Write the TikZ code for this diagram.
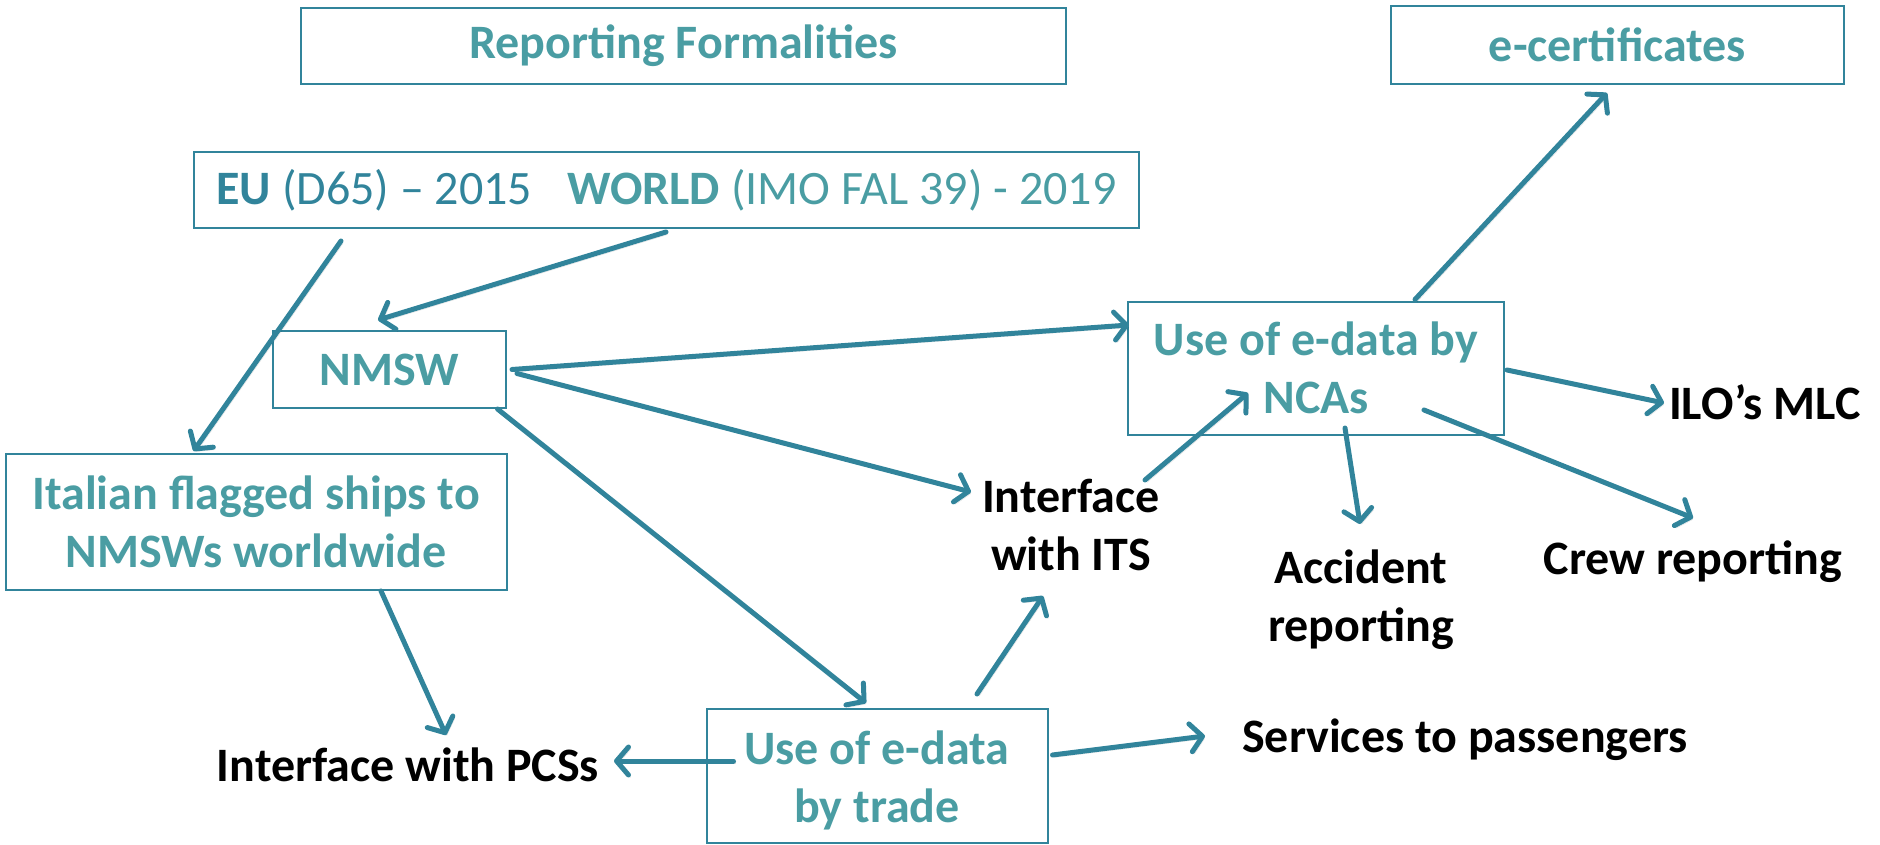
\documentclass[tikz,border=0pt]{standalone}
\usepackage{fontspec}
\setmainfont{Carlito}
\usetikzlibrary{arrows.meta,calc}
\definecolor{tealdark}{HTML}{31849B}
\definecolor{teallight}{HTML}{4A9DA3}

\tikzset{
  box/.style={draw=tealdark, line width=2pt, text=teallight, align=center,
    inner sep=0pt, font=\bfseries\fontsize{48}{58}\selectfont},
  boxtext/.style={text=teallight, align=center, inner sep=0pt,
    font=\bfseries\fontsize{48}{58}\selectfont},
  lbl/.style={text=black, align=center, inner sep=0pt,
    font=\bfseries\fontsize{48}{58}\selectfont},
  link/.style={draw=tealdark, line width=5pt, line cap=round,
    -{Straight Barb[length=12pt,width=28pt,line cap=round,line join=round]},
    preaction={draw=black, opacity=0.12, transform canvas={xshift=2pt,yshift=-2.5pt}}}
}

\begin{document}
\begin{tikzpicture}[x=1pt,y=-1pt]
      \useasboundingbox (0,0) rectangle (1880,845);
      % boxes
      \node[box, minimum width=765pt, minimum height=76pt] (rep) at (683.5,46) {Reporting Formalities};
      \node[box, minimum width=453pt, minimum height=78pt] (ecert) at (1617.5,45) {e-certificates};
      \node[box, minimum width=945pt, minimum height=76pt] (eu) at (666.5,190)
        {{\color{tealdark}EU {\mdseries (D65) – 2015}}\hspace{35pt}WORLD {\mdseries (IMO FAL 39) - 2019}};
      \node[box, minimum width=233pt, minimum height=77pt] (nmsw) at (389.5,369.5) {NMSW};
      \node[box, minimum width=376pt, minimum height=133pt] (nca) at (1316,368) {Use of e-data by\\NCAs};
      \node[box, minimum width=501pt, minimum height=136pt] (ital) at (256,522) {Italian flagged ships to\\NMSWs worldwide};
      \node[box, minimum width=341pt, minimum height=134pt] (trade) at (877,776) {};
      \node[boxtext] (tradetxt) at (877,780) {Use of e-data\\by trade};
      % labels
      \node[lbl] (its) at (1071,525) {Interface\\with ITS};
      \node[lbl] (acc) at (1361,600) {Accident\\reporting};
      \node[lbl] (crew) at (1693,562) {Crew reporting};
      \node[lbl] (ilo) at (1765,402) {ILO’s MLC};
      \node[lbl] (pcs) at (408,765) {Interface with PCSs};
      \node[lbl] (serv) at (1465,740) {Services to passengers};
      % arrows
      \draw[link] ($(eu.south west)+(148,12)$) -- ($(ital.north west)+(189,-2)$);
      \draw[link] ($(eu.south west)+(473,3)$) -- ($(nmsw.north west)+(106,-10)$);
      \draw[link] ($(nmsw.east)+(5,0)$) -- ($(nca.west)+(2,-43)$);
      \draw[link] ($(nmsw.east)+(10,4)$) -- ($(its.center)+(-100,-33)$);
      \draw[link] ($(nmsw.south)+(108,0)$) -- ($(trade.north)+(-11,-5)$);
      \draw[link] ($(ital.south)+(125,0)$) -- ($(pcs.center)+(38,-30)$);
      \draw[link] ($(trade.west)+(28,-15)$) -- ($(pcs.center)+(206,-4)$);
      \draw[link] ($(trade.east)+(4,-21)$) -- ($(serv.center)+(-260,-4)$);
      \draw[link] ($(trade.north)+(100,-14)$) -- ($(its.center)+(-28,71)$);
      \draw[link] ($(its.center)+(74,-45)$) -- ($(nca.center)+(-68,25)$);
      \draw[link] ($(nca.north)+(99,-1)$) -- ($(ecert.south)+(-10.5,8)$);
      \draw[link] ($(nca.east)+(2,2)$) -- ($(ilo.center)+(-101,1)$);
      \draw[link] ($(nca.center)+(108,42)$) -- ($(crew.center)+(0,-44)$);
      \draw[link] ($(nca.center)+(29,60)$) -- ($(acc.center)+(-1,-76)$);
    \end{tikzpicture}
\end{document}
